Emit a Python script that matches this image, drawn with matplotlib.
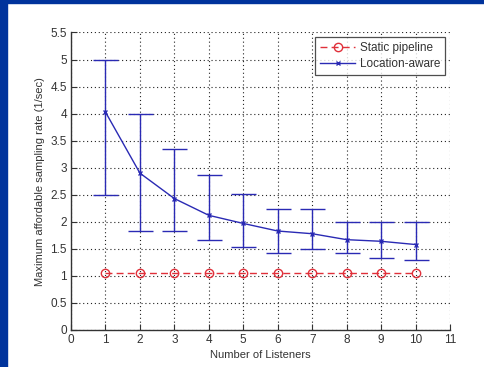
import matplotlib
matplotlib.use("Agg")
import matplotlib.pyplot as plt
from matplotlib.lines import Line2D
import numpy as np

listeners = [1, 2, 3, 4, 5, 6, 7, 8, 9, 10]
static_pipeline = [1.05, 1.05, 1.05, 1.05, 1.05, 1.05, 1.05, 1.05, 1.05, 1.05]
location_aware = [4.03, 2.90, 2.43, 2.12, 1.97, 1.83, 1.78, 1.67, 1.64, 1.58]
la_low = [2.50, 1.83, 1.83, 1.66, 1.54, 1.43, 1.50, 1.43, 1.33, 1.29]
la_high = [5.00, 4.00, 3.35, 2.86, 2.51, 2.23, 2.23, 2.00, 2.00, 2.00]
xticks = list(range(0, 12))
yticks = [0, 0.5, 1, 1.5, 2, 2.5, 3, 3.5, 4, 4.5, 5, 5.5]

plt.rcParams['font.family'] = ['Liberation Sans', 'DejaVu Sans']
txt = '#333333'
red = '#e0303a'
blue = '#2a2ab4'

fig = plt.figure(figsize=(4.84, 3.67), dpi=100, facecolor='white')
# blue frame
fig.patches.append(plt.Rectangle((0, 0), 7/484, 1, transform=fig.transFigure,
                                 color='#00339c', zorder=0))
fig.patches.append(plt.Rectangle((0, 1 - 3/367), 1, 3/367, transform=fig.transFigure,
                                 color='#00339c', zorder=0))

ax = fig.add_axes([71/484, 1 - 330/367, (450 - 71)/484, (330 - 32.5)/367])

ax.plot(listeners, static_pipeline, linestyle=(0, (5, 3)), color=red, lw=1.0,
        marker='o', markersize=6, markerfacecolor='none', markeredgecolor=red,
        markeredgewidth=1.0, zorder=3)
yerr = [np.array(location_aware) - np.array(la_low), np.array(la_high) - np.array(location_aware)]
ax.errorbar(listeners, location_aware, yerr=yerr, color=blue, lw=1.0, marker='x',
            markersize=3.5, markeredgewidth=1.0, capsize=9, elinewidth=1.0, capthick=1.0,
            zorder=3)

ax.set_xlim(0, 11)
ax.set_ylim(0, 5.5)
ax.set_xticks(xticks)
ax.set_yticks(yticks)
ax.set_yticklabels(['0', '0.5', '1', '1.5', '2', '2.5', '3', '3.5', '4', '4.5', '5', '5.5'])
ax.grid(True, linestyle=(0, (1, 2.5)), color='#222222', lw=0.8)
ax.set_axisbelow(True)
ax.spines['top'].set_visible(False)
ax.spines['right'].set_visible(False)
for s in ('left', 'bottom'):
    ax.spines[s].set_color('#333333')
    ax.spines[s].set_linewidth(1.0)
ax.tick_params(direction='in', length=4, width=0.8, color='#333333',
               labelsize=8.5, labelcolor=txt, pad=3)
ax.set_xlabel('Number of Listeners', fontsize=8, color=txt, labelpad=3)
ax.set_ylabel('Maximum affordable sampling rate (1/sec)', fontsize=8, color=txt, labelpad=4)

handles = [
    Line2D([], [], linestyle=(0, (5, 3)), color=red, lw=1.0, marker='o', markersize=6,
           markerfacecolor='none', markeredgecolor=red),
    Line2D([], [], linestyle='-', color=blue, lw=1.0, marker='x', markersize=3.5),
]
leg = ax.legend(handles, ['Static pipeline', 'Location-aware'], loc='upper right',
                fontsize=8.5, frameon=True, fancybox=False, numpoints=1,
                edgecolor='#222222', borderpad=0.4, handlelength=3.0,
                labelspacing=0.35, borderaxespad=0.4, handletextpad=0.4)
leg.get_frame().set_linewidth(0.9)
for t in leg.get_texts():
    t.set_color(txt)

fig.savefig('out.png', dpi=100, facecolor='white')
